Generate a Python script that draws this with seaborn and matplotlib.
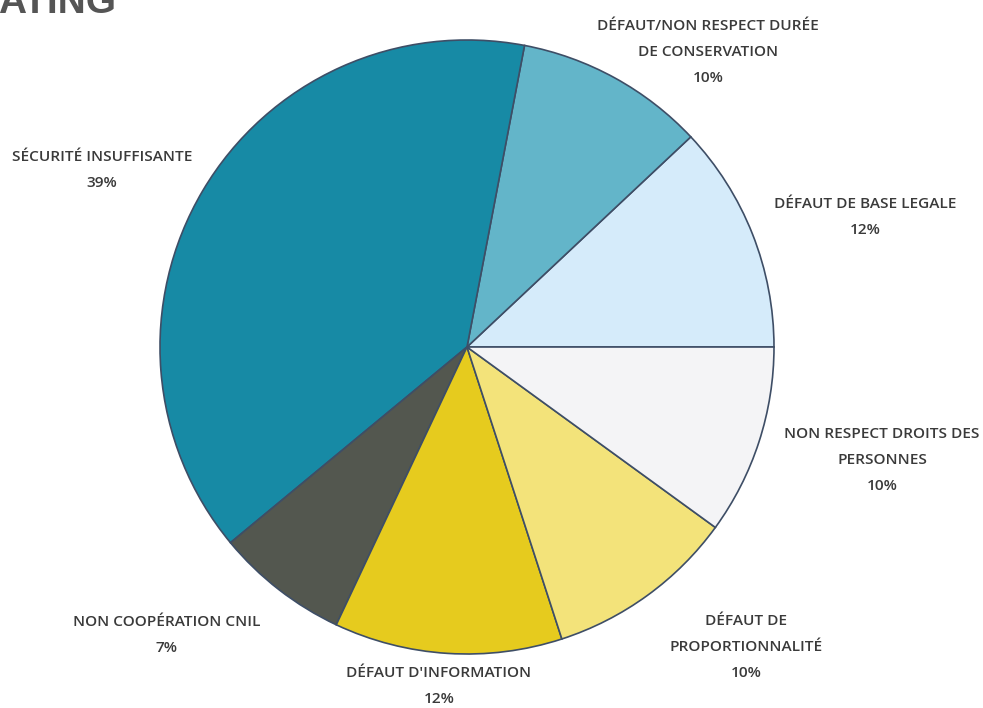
import matplotlib
matplotlib.use("Agg")
import matplotlib.pyplot as plt
import seaborn as sns

sns.set_theme(style="white")
plt.rcParams['font.family'] = ['Open Sans', 'DejaVu Sans']

categories = ["DÉFAUT DE BASE LEGALE",
              "DÉFAUT/NON RESPECT DURÉE\nDE CONSERVATION",
              "SÉCURITÉ INSUFFISANTE",
              "NON COOPÉRATION CNIL",
              "DÉFAUT D'INFORMATION",
              "DÉFAUT DE\nPROPORTIONNALITÉ",
              "NON RESPECT DROITS DES\nPERSONNES"]
values = [12, 10, 39, 7, 12, 10, 10]
colors = ["#D5EBFA", "#63B5C9", "#178AA5", "#53574F", "#E6CB1E", "#F3E37A", "#F4F4F6"]

# label anchor positions in pixel coords (x, y from top)
label_pos = [(865, 217), (708, 52), (102, 170), (167, 635), (439, 686), (746, 647), (882, 460)]

W, H = 983, 708
fig = plt.figure(figsize=(W / 100, H / 100), dpi=100)
ax = fig.add_axes([0, 0, 1, 1])
ax.set_xlim(0, W)
ax.set_ylim(0, H)
ax.set_aspect("equal")
ax.axis("off")

ax.pie(values, colors=colors, startangle=0, counterclock=True,
       center=(467, H - 347), radius=307,
       wedgeprops=dict(edgecolor="#3E4E66", linewidth=1.2))
ax.set_xlim(0, W)
ax.set_ylim(0, H)

for cat, val, (px, py) in zip(categories, values, label_pos):
    ax.text(px, H - py, f"{cat}\n{val}%", ha="center", va="center",
            fontsize=11.1, color="#3A3A3A", fontweight="semibold",
            linespacing=2.1)

fig.text(-2 / W, 1 - 13 / H, "ATING", ha="left", va="baseline",
         fontsize=28, fontweight="bold", color="#555555",
         family=["Liberation Sans", "DejaVu Sans"])

fig.savefig("out.png", dpi=100)
